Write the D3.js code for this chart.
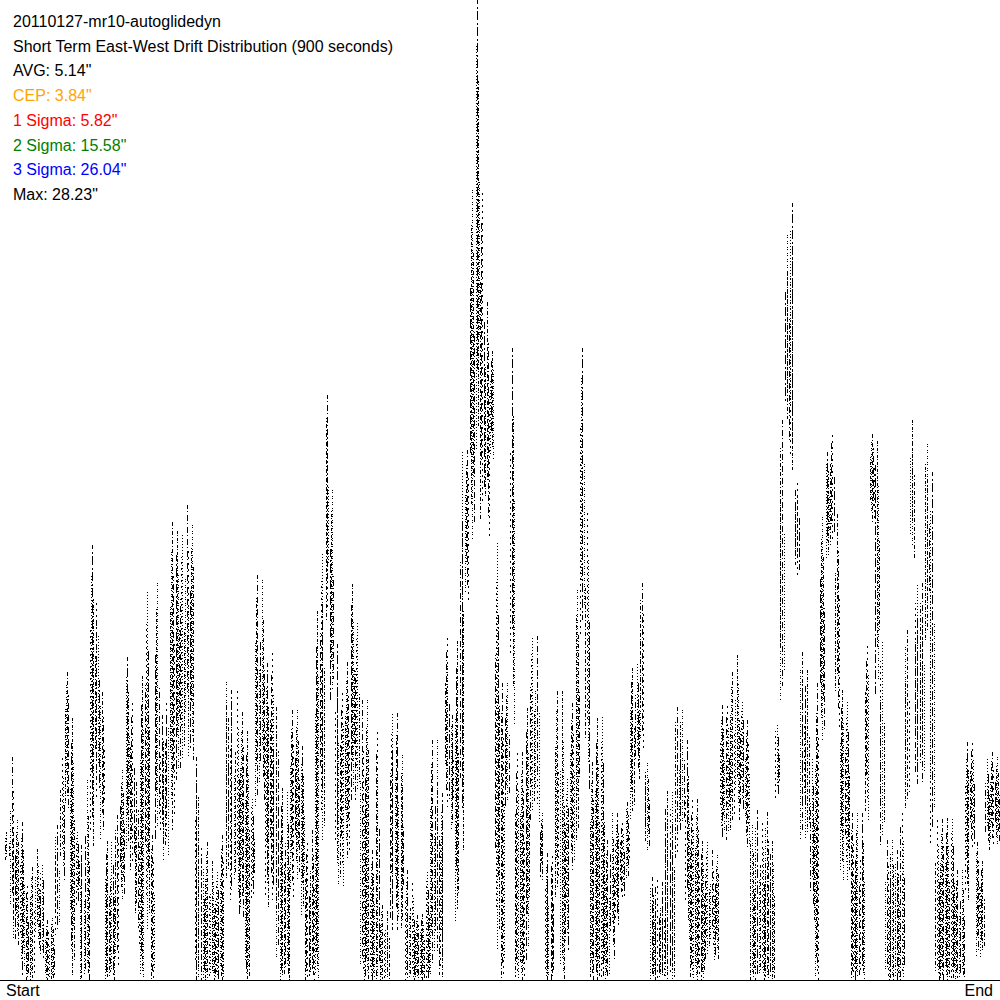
<!DOCTYPE html>
<html>
<head>
<meta charset="utf-8">
<script src="https://cdn.jsdelivr.net/npm/d3@7"></script>
<style>
  html, body { margin: 0; padding: 0; background: #fff; }
  svg { display: block; }
  text { font-family: "Liberation Sans", Arial, sans-serif; }
</style>
</head>
<body>
<svg id="chart" width="1000" height="1000"></svg>
<script>
// ---- Data (arc-seconds of east-west drift, per time bin from Start to End) ----
const driftHigh = [
  0, 4.32, 6.42, 4.61, 4.55, 2.79, 3.31, 3.80, 3.37, 1.73,
  1.79, 4.46, 6.48, 8.93, 7.58, 4.32, 3.89, 5.76, 12.53, 10.95,
  8.35, 4.03, 4.03, 4.75, 6.05, 9.30, 8.07, 5.76, 8.79, 11.23,
  4.18, 11.44, 7.63, 8.07, 13.25, 12.96, 12.88, 13.68, 13.11, 6.42,
  3.89, 4.03, 3.46, 3.17, 4.18, 8.58, 8.35, 8.41, 7.78, 7.20,
  5.27, 11.67, 11.52, 9.13, 9.51, 7.92, 5.56, 5.47, 7.78, 7.78,
  6.74, 4.03, 4.38, 10.66, 12.33, 16.85, 14.11, 9.68, 8.35, 9.22,
  11.44, 10.34, 8.07, 8.07, 3.74, 7.23, 2.22, 2.02, 7.72, 7.69,
  6.48, 3.17, 2.88, 1.93, 1.93, 3.17, 6.91, 6.91, 5.39, 9.94,
  7.69, 9.79, 15.27, 15.27, 22.76, 28.23, 22.76, 19.59, 18.15, 12.65,
  8.55, 8.55, 18.20, 6.63, 6.63, 7.86, 9.91, 9.91, 4.81, 3.66,
  3.66, 8.38, 8.35, 5.85, 7.98, 11.23, 18.20, 13.54, 6.34, 7.58,
  7.63, 4.03, 4.81, 4.81, 4.61, 5.18, 9.02, 9.16, 11.44, 6.25,
  2.97, 2.97, 2.88, 5.47, 5.47, 7.86, 7.78, 6.91, 5.27, 5.27,
  4.03, 4.03, 3.74, 3.60, 7.92, 7.98, 8.93, 9.39, 8.07, 7.49,
  4.46, 4.90, 4.61, 4.90, 4.03, 7.40, 16.13, 21.46, 22.38, 14.40,
  9.51, 8.96, 6.42, 8.55, 13.34, 15.21, 15.79, 13.48, 8.38, 8.07,
  4.81, 4.81, 4.81, 9.71, 15.79, 15.56, 9.79, 4.03, 4.03, 3.74,
  4.90, 10.14, 16.16, 11.44, 11.44, 15.44, 14.63, 4.70, 4.70, 4.70,
  4.70, 3.17, 3.17, 6.86, 6.91, 4.03, 3.46, 6.42, 6.57, 6.42
];
const driftLow = [
  0, 3.46, 1.15, 1.01, 0.14, 0, 0, 0.86, 0.58, 0,
  0, 1.30, 2.88, 4.90, 0.14, 2.16, 0, 0, 3.83, 5.18,
  4.03, 0, 0, 0.43, 2.30, 3.74, 3.17, 1.01, 0, 1.44,
  0, 4.03, 3.46, 3.60, 4.32, 5.76, 6.05, 6.42, 6.34, 0,
  0, 0, 0, 0, 0, 2.88, 2.30, 1.87, 1.81, 0,
  2.30, 4.98, 5.18, 2.10, 2.30, 0.58, 0, 0, 2.30, 2.88,
  1.87, 0, 0, 0, 4.03, 10.37, 8.07, 2.68, 2.68, 3.46,
  5.18, 5.18, 0, 0, 0, 0, 0, 0, 1.44, 1.44,
  1.44, 0, 0, 0, 0, 0, 0.14, 0.14, 0.09, 4.98,
  4.32, 1.64, 3.74, 10.95, 12.67, 15.27, 13.25, 12.67, 14.98, 0.86,
  0, 4.98, 7.37, 0, 0, 0.58, 4.61, 4.52, 2.88, 0,
  0, 2.39, 0, 0.86, 3.17, 4.03, 9.97, 5.47, 0, 0,
  0, 0, 0.58, 1.58, 2.30, 2.88, 4.61, 5.76, 6.63, 3.74,
  0, 0, 0, 0, 0, 3.46, 4.32, 1.15, 0, 0,
  0, 0.58, 0.58, 0.58, 4.03, 4.03, 4.32, 4.61, 4.90, 3.74,
  0, 0, 0, 0, 0, 5.18, 8.07, 15.56, 14.69, 11.67,
  4.03, 4.03, 1.73, 0, 6.91, 12.10, 12.53, 7.20, 2.88, 2.88,
  0, 0, 0, 4.61, 13.19, 8.24, 3.89, 0, 0, 0,
  0, 4.90, 12.10, 5.65, 5.67, 9.79, 3.86, 0, 0, 0,
  0, 0, 0, 2.30, 3.74, 0.66, 0.66, 3.74, 3.83, 3.83
];
const titleLines = [
  "20110127-mr10-autoglidedyn",
  "Short Term East-West Drift Distribution (900 seconds)"
];
const statLabels = ["AVG", "CEP", "1 Sigma", "2 Sigma", "3 Sigma", "Max"];
const statValues = [5.14, 3.84, 5.82, 15.58, 26.04, 28.23];
const statColors = ["#000000", "#FFA500", "#FF0000", "#008000", "#0000FF", "#000000"];
const axisLabels = ["Start", "End"];

// ---- Scales ----
const W = 1000, H = 1000, baseY = 980;
const svg = d3.select("#chart");
const x = d3.scaleLinear().domain([0, driftHigh.length]).range([0, W]);
const y = d3.scaleLinear().domain([0, d3.max(statValues)]).range([baseY, 0]);

// ---- Marks: dotted vertical streaks per pixel column of each time bin ----
const sub = 5;
const reach = [0.72, 0.9, 1.0, 0.82, 0.6];
const floorLift = [0.1, 0.0, 0.18, 0.05, 0.25];
const dashes = ["1,2", "6,2,1,3", "1,1,1,3", "9,3,2,2", "2,4", "1,2,4,2", "3,1,1,2"];
const cols = [];
driftHigh.forEach((hi, i) => {
  const lo = driftLow[i];
  if (hi <= lo) return;
  for (let j = 0; j < sub; j++) {
    if ((i * 2 + j) % 5 === 0 && j !== 2) continue;   // leave white gaps between streaks
    const px = Math.floor(x(i + j / sub)) + 0.5;
    const top = lo + (hi - lo) * reach[j];
    const bottom = lo + (hi - lo) * floorLift[(i + j) % sub] * (lo > 0 ? 1 : 0.3);
    cols.push({ px, top, bottom, dash: dashes[(j * 3 + i) % dashes.length], off: (i * 5 + j * 3) % 7 });
  }
});

svg.append("g")
  .attr("shape-rendering", "crispEdges")
  .selectAll("line")
  .data(cols)
  .join("line")
  .attr("x1", d => d.px).attr("x2", d => d.px)
  .attr("y1", d => Math.round(y(d.top)))
  .attr("y2", d => Math.round(y(d.bottom)))
  .attr("stroke", "#000")
  .attr("stroke-width", 1)
  .attr("stroke-dasharray", d => d.dash)
  .attr("stroke-dashoffset", d => d.off);

// ---- Baseline axis ----
svg.append("line")
  .attr("x1", 0).attr("x2", W)
  .attr("y1", baseY + 0.5).attr("y2", baseY + 0.5)
  .attr("stroke", "#000").attr("stroke-width", 1)
  .attr("shape-rendering", "crispEdges");

svg.append("text").attr("x", 6).attr("y", 996)
  .attr("font-size", 16).attr("fill", "#000").text(axisLabels[0]);
svg.append("text").attr("x", 993).attr("y", 996)
  .attr("text-anchor", "end")
  .attr("font-size", 16).attr("fill", "#000").text(axisLabels[1]);

// ---- Title and statistics ----
const lines = titleLines.map(t => ({ t, c: "#000" }))
  .concat(statLabels.map((l, i) => ({ t: `${l}: ${statValues[i].toFixed(2)}"`, c: statColors[i] })));
svg.append("g").selectAll("text")
  .data(lines)
  .join("text")
  .attr("x", 13)
  .attr("y", (d, i) => 27 + i * 24.7)
  .attr("font-size", 16)
  .attr("fill", d => d.c)
  .text(d => d.t);
</script>
</body>
</html>
